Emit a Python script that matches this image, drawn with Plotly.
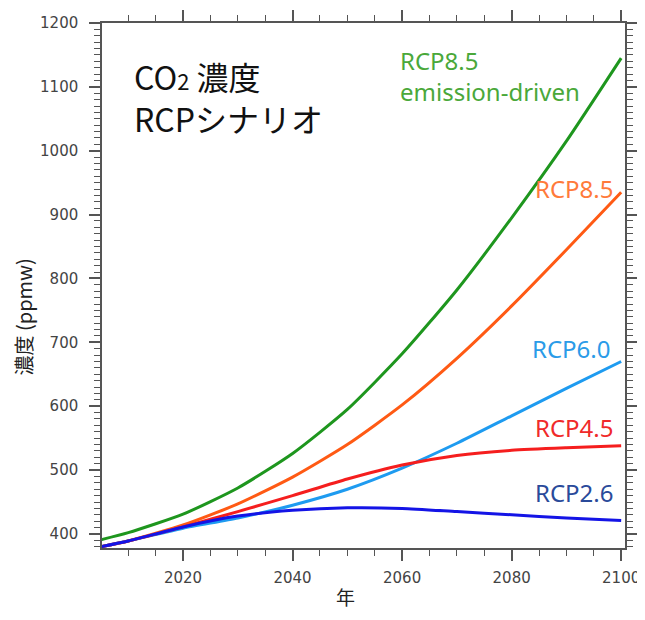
import plotly.graph_objects as go

years = [2005, 2010, 2020, 2030, 2040, 2050, 2060, 2070, 2080, 2090, 2100]
rcp85_emis = [391, 402, 431, 472, 526, 595, 682, 782, 895, 1015, 1145]
rcp85 = [380, 389, 414, 447, 489, 540, 602, 675, 757, 845, 935]
rcp60 = [380, 389, 409, 425, 445, 470, 503, 542, 585, 628, 670]
rcp45 = [380, 389, 411, 435, 460, 486, 508, 523, 531, 535, 538]
rcp26 = [380, 389, 411, 428, 437, 441, 440, 435, 430, 425, 421]

series = [
    ("RCP8.5 emission-driven", rcp85_emis, "#1e961e"),
    ("RCP8.5", rcp85, "#ff5a14"),
    ("RCP6.0", rcp60, "#1e9bf0"),
    ("RCP4.5", rcp45, "#f51e1e"),
    ("RCP2.6", rcp26, "#1414e6"),
]

fig = go.Figure()
for name, vals, col in series:
    fig.add_trace(go.Scatter(x=years, y=vals, mode="lines", name=name,
                             line=dict(color=col, width=3, shape="spline", smoothing=0.6)))

lab_font = "Noto Sans, Open Sans, sans-serif"
labels = [
    ("RCP8.5", 2059.3, 1142, "left", "#4aa83a"),
    ("emission-driven", 2059.3, 1092, "left", "#4aa83a"),
    ("RCP8.5", 2099, 941, "right", "#ff7a3a"),
    ("RCP6.0", 2098.5, 691, "right", "#2a9be8"),
    ("RCP4.5", 2099, 567, "right", "#f02a2a"),
    ("RCP2.6", 2099, 465, "right", "#2a4a9a"),
]
for txt, xx, yy, anc, col in labels:
    fig.add_annotation(x=xx, y=yy, xref="x", yref="y", text=txt, showarrow=False,
                       xanchor=anc, yanchor="middle",
                       font=dict(family=lab_font, size=24, color=col))

title_font = dict(family="Noto Sans CJK JP", size=32, color="#111")
fig.add_annotation(x=0.057, y=1084, xref="paper", yref="y",
                   text="CO<span style='font-size:22px'>2</span> 濃度<br>RCPシナリオ",
                   showarrow=False, xanchor="left", yanchor="middle", align="left",
                   font=title_font)

# axis titles
fig.add_annotation(x=-0.152, y=0.44, xref="paper", yref="paper", text="濃度 (ppmw)",
                   textangle=-90, showarrow=False, xanchor="center", yanchor="middle",
                   font=dict(family="Noto Sans CJK JP", size=20, color="#222"))
fig.add_annotation(x=0.465, y=-0.093, xref="paper", yref="paper", text="年",
                   showarrow=False, xanchor="center", yanchor="middle",
                   font=dict(family="Noto Sans CJK JP", size=19, color="#222"))

axis_common = dict(showline=True, linecolor="#555", linewidth=1.5, mirror="allticks",
                   ticks="outside", tickcolor="#555", ticklen=11, tickwidth=1.5,
                   showgrid=False, zeroline=False, automargin=False,
                   tickfont=dict(family="DejaVu Sans", size=15, color="#444"))

fig.update_xaxes(range=[2005.2, 2100.7], tickvals=[2020, 2040, 2060, 2080, 2100],
                 minor=dict(dtick=5, tick0=2005, ticks="outside", ticklen=6, tickcolor="#555", tickwidth=1.2),
                 ticklabelstandoff=4,
                 **axis_common)
fig.update_yaxes(range=[378, 1200], tickvals=[400, 500, 600, 700, 800, 900, 1000, 1100, 1200],
                 minor=dict(dtick=10, tick0=400, ticks="outside", ticklen=6, tickcolor="#555", tickwidth=1.2),
                 ticklabelstandoff=8,
                 **axis_common)

# page body adds an 8px offset; size the figure so it fits the 645x620 window
fig.update_layout(width=637, height=604, margin=dict(l=94, r=20, t=15, b=64),
                  plot_bgcolor="white", paper_bgcolor="white", showlegend=False)

fig.write_html("out.html")
